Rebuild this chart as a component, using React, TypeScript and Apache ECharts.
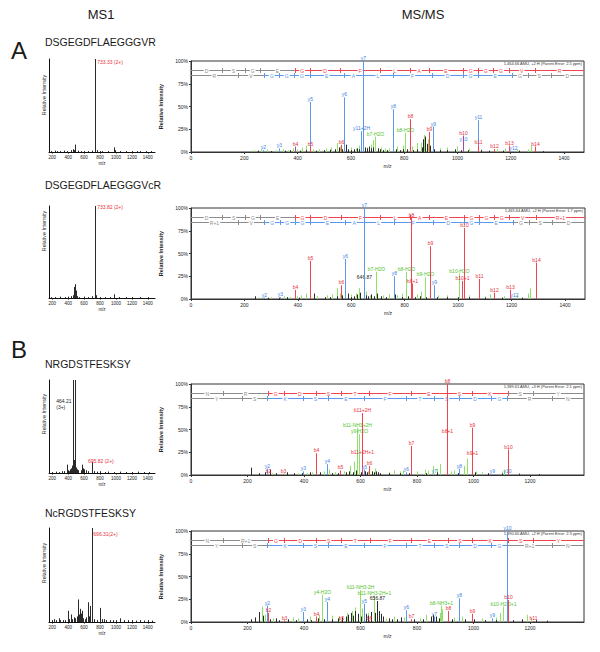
import React, { useEffect, useRef } from "react";
import * as echarts from "echarts";

const FONT = "'Liberation Sans', Arial, Helvetica, sans-serif";
const LINE_COL: Record<string, string> = { b: "#f0454e", y: "#5b98ec", g: "#92e06c", k: "#2a2a2a", p: "#a24a9c", s: "#9a9a9a" };
const TEXT_COL: Record<string, string> = { b: "#e8303a", y: "#3f7fe2", g: "#52c22a", k: "#222222", p: "#d8343e", s: "#777" };
const GRAY = "#8c8c8c";

// ---------------- texts ----------------
const peptides = ["DSGEGDFLAEGGGVR", "DSGEGDFLAEGGGVcR", "NRGDSTFESKSY", "NcRGDSTFESKSY"];
const annotations = [
  "1,464.66 AMU, +2 H (Parent Error: 2.5 ppm)",
  "1,465.64 AMU, +2 H (Parent Error: 1.7 ppm)",
  "1,389.61 AMU, +3 H (Parent Error: 2.1 ppm)",
  "1,390.60 AMU, +2 H (Parent Error: 2.3 ppm)",
];

// ---------------- MS1 ----------------
const ms1Ticks = [200, 400, 600, 800, 1000, 1200, 1400];
const ms1PeaksA1: [number, number][] = [
  [180, 1], [230, 1.5], [260, 1], [300, 1], [350, 1.5], [390, 1], [430, 2], [455, 3], [470, 2], [484, 8],
  [520, 1.5], [560, 1], [600, 1], [650, 1], [700, 1.5], [733.33, 100], [737, 4], [760, 2], [800, 1], [830, 1],
  [900, 1], [977, 5], [985, 2], [1050, 1], [1120, 1], [1200, 1], [1260, 1], [1300, 1], [1380, 1], [1440, 1],
];
const ms1PeaksA2: [number, number][] = [
  [180, 1], [240, 1], [300, 1.5], [360, 1], [400, 1.5], [440, 2], [458, 3], [470, 5], [478, 12], [486, 15],
  [494, 8], [510, 2], [540, 1], [600, 1.5], [650, 1], [700, 2], [733.82, 100], [737, 13], [741, 8], [746, 3],
  [800, 1], [860, 1], [930, 1], [977, 4], [1040, 1], [1120, 1], [1200, 1], [1300, 1], [1400, 1],
];
const ms1PeaksB1: [number, number][] = [
  [200, 1], [250, 1.5], [280, 1], [320, 2], [350, 2], [382, 9], [395, 3], [410, 2], [425, 4], [440, 5],
  [452, 8], [464.21, 100], [472, 14], [480, 10], [492, 100], [500, 6], [512, 4], [530, 3], [560, 3], [572, 9],
  [585, 5], [600, 4], [620, 3], [650, 2], [695.82, 12], [720, 2], [760, 1.5], [800, 2], [860, 1], [900, 1.5],
  [980, 1], [1050, 1.5], [1120, 1], [1200, 1], [1280, 1.5], [1350, 1], [1420, 1],
];
const ms1PeaksB2: [number, number][] = [
  [200, 2], [220, 3], [250, 2], [288, 4], [300, 2], [330, 2], [360, 2], [393, 12], [410, 3], [432, 8],
  [450, 3], [470, 5], [490, 4], [510, 6], [527, 24], [538, 8], [549, 14], [560, 9], [570, 12], [590, 4],
  [610, 3], [630, 5], [645, 21], [660, 6], [678, 17], [696.31, 100], [702, 4], [720, 3], [760, 2], [800, 15],
  [820, 3], [850, 3], [880, 2], [920, 2], [960, 2], [1000, 2], [1050, 4], [1100, 2], [1150, 2], [1200, 2],
  [1250, 1.5], [1300, 2], [1350, 1.5], [1400, 2], [1450, 1.5],
];
const ms1Labels: { panel: number; mz: number; int: number; text: string; color: string }[] = [
  { panel: 0, mz: 733.33, int: 100, text: "733.33 (2+)", color: "#e8303a" },
  { panel: 1, mz: 733.82, int: 100, text: "733.82 (2+)", color: "#e8303a" },
  { panel: 2, mz: 464.21, int: 80, text: "464.21\n(3+)", color: "#222" },
  { panel: 2, mz: 695.82, int: 12, text: "695.82 (2+)", color: "#e8303a" },
  { panel: 3, mz: 696.31, int: 100, text: "696.31(2+)", color: "#e8303a" },
];
const ms1LabelOffsets = [[2.5, 0], [2.5, -1.7], [-17, -1], [-3.7, -4], [1.6, 3]];

// ---------------- MS/MS ----------------
const msmsMax = [1475, 1475, 1391, 1391];
const msmsTicksA = [0, 200, 400, 600, 800, 1000, 1200, 1400];
const msmsTicksB = [0, 200, 400, 600, 800, 1000, 1200];
const pctTicks = [0, 25, 50, 75, 100];

type Ion = [number, number, string, string];
const ions1: Ion[] = [
  [272, 2, "y2", "y"], [331, 4, "y3", "y"], [389, 6, "b4", "p"], [446, 55, "y5", "y"], [447, 6, "b5", "b"],
  [563, 8, "b6", "b"], [575, 60, "y6", "y"], [638, 23, "y11+2H", "y"], [646, 100, "y7", "y"],
  [691, 17, "b7-H2O", "g"], [759, 47, "y8", "y"], [805, 21, "b8-H2O", "g"], [822, 36, "b8", "b"],
  [894, 22, "b9", "b"], [907, 28, "y9", "y"], [1021, 11, "y10", "y"], [1021, 18, "b10", "p"],
  [1079, 35, "y11", "y"], [1079, 8, "b11", "b"], [1136, 3, "b12", "b"], [1193, 7, "b13", "b"],
  [1207, 1, "y12", "y"], [1292, 6, "b14", "b"],
];
const ions2: Ion[] = [
  [275, 1.5, "y2", "y"], [332, 2, "y3", "y"], [389, 10, "b4", "b"], [447, 42, "b5", "b"], [562, 15, "b6", "b"],
  [576, 44, "y6", "y"], [647, 21, "646.87", "k"], [647, 100, "y7", "y"], [692, 30, "b7-H2O", "g"],
  [760, 25, "y8", "y"], [806, 30, "b8-H2O", "g"], [822, 89, "b8", "b"], [826, 17, "b8+1", "b"],
  [876, 24, "b9-H2O", "g"], [893, 58, "b9", "b"], [908, 15, "y9", "y"], [1005, 28, "b10-H2O", "g"],
  [1016, 20, "b10+1", "b"], [1021, 78, "b10", "b"], [1079, 22, "b11", "b"], [1136, 7, "b12", "b"],
  [1193, 10, "b13", "b"], [1208, 1, "y12", "y"], [1292, 40, "b14", "b"],
];
const ions3: Ion[] = [
  [268, 7, "y2", "y"], [271, 1, "b2", "b"], [327, 1, "b3", "b"], [396, 4, "y3", "y"], [442, 24, "b4", "b"],
  [483, 12, "y4", "y"], [529, 5, "b5", "b"], [588, 52, "b11-NH3+2H", "g"], [595, 45, "y9-H2O", "g"],
  [605, 68, "b11+2H", "b"], [606, 22, "b11+2H+1", "b"], [612, 6, "y5", "y"], [630, 10, "b6", "b"],
  [761, 3, "y6", "y"], [778, 32, "b7", "b"], [860, 1, "y7", "y"], [907, 100, "b8", "b"], [907, 45, "b8+1", "b"],
  [949, 7, "y8", "y"], [995, 52, "b9", "b"], [995, 21, "b9+1", "b"], [1064, 1, "y9", "y"],
  [1120, 1, "y10", "y"], [1122, 28, "b10", "b"],
];
const ions4: Ion[] = [
  [269, 18, "y2", "y"], [272, 10, "b2", "b"], [329, 1.5, "b3", "b"], [396, 11, "y3", "y"], [444, 6, "b4", "b"],
  [464, 30, "y4-H2O", "g"], [483, 22, "y4", "y"], [531, 1.5, "b5", "b"], [597, 35, "b11-NH3-2H", "g"],
  [612, 20, "y5", "y"], [631, 1.5, "b6", "b"], [648, 29, "b11-NH3-2H+1", "g"], [657, 23, "656.87", "k"],
  [760, 13, "y6", "y"], [779, 3, "b7", "b"], [861, 6, "y7", "y"], [885, 18, "b8-NH3+1", "g"],
  [908, 12, "b8", "b"], [949, 26, "y8", "y"], [995, 9, "b9", "b"], [1064, 4, "y9", "y"],
  [1105, 17, "b10-H2O+1", "g"], [1120, 100, "y10", "y"], [1123, 24, "b10", "b"], [1210, 1, "b11", "b"],
];

const noiseK1: [number, number][] = [
  [250, 1.5], [300, 1], [352, 1.5], [372, 2], [410, 1.5], [430, 2], [470, 1.5], [500, 2], [520, 2.5], [540, 3],
  [556, 5], [566, 3], [580, 8], [590, 3], [600, 2], [612, 3], [622, 4], [632, 3], [652, 5], [660, 4], [668, 6],
  [676, 4], [684, 5], [692, 6], [700, 4], [710, 3], [722, 2], [735, 2], [770, 3], [785, 2], [795, 3], [812, 3],
  [835, 2], [850, 3], [866, 5], [872, 14], [878, 17], [884, 9], [898, 7], [912, 3], [935, 2], [960, 2], [990, 3],
  [1012, 2], [1040, 2], [1090, 2], [1120, 1.5], [1170, 1.5], [1230, 1.5], [1320, 1],
];
const noiseG1: [number, number][] = [
  [238, 2], [262, 2], [285, 3], [318, 2], [344, 3], [365, 2], [381, 4], [398, 3], [418, 5], [433, 7], [458, 3],
  [482, 3], [508, 4], [525, 5], [547, 10], [561, 6], [600, 5], [618, 4], [630, 7], [660, 5], [675, 8], [682, 13],
  [712, 5], [728, 4], [745, 4], [775, 6], [796, 7], [830, 6], [848, 10], [862, 10], [875, 19], [888, 14],
  [910, 5], [935, 4], [960, 5], [1000, 6], [1045, 4], [1090, 3], [1148, 3], [1178, 4], [1222, 3], [1265, 3], [1275, 7],
];
const noiseK2: [number, number][] = [
  [240, 3], [290, 1.5], [330, 1.5], [360, 2], [405, 1.5], [462, 6], [500, 2], [520, 2], [548, 3], [566, 4],
  [588, 6], [600, 2], [612, 3], [622, 5], [632, 7], [656, 4], [664, 3], [672, 5], [684, 3], [698, 6], [710, 3],
  [730, 2], [764, 5], [790, 2], [812, 3], [840, 2], [858, 3], [880, 2], [920, 2], [960, 2], [1000, 2], [1040, 2],
  [1100, 1.5], [1165, 1.5], [1240, 1.5],
];
const noiseG2: [number, number][] = [
  [256, 2], [300, 2], [350, 3], [372, 2], [398, 3], [412, 4], [430, 6], [470, 3], [508, 4], [528, 5], [545, 12],
  [556, 6], [600, 5], [618, 6], [630, 12], [655, 8], [670, 4], [720, 4], [740, 5], [772, 4], [790, 6], [845, 5],
  [860, 8], [925, 4], [960, 4], [1040, 4], [1100, 3], [1120, 5], [1170, 3], [1220, 4], [1260, 6], [1270, 12],
];
const noiseK3: [number, number][] = [
  [212, 8], [240, 2], [262, 3], [278, 6], [300, 2], [340, 3], [365, 2], [392, 2], [420, 3], [455, 3], [500, 2],
  [520, 2], [548, 3], [560, 4], [572, 3], [584, 5], [594, 4], [600, 3], [616, 4], [622, 3], [640, 4], [648, 3],
  [656, 4], [662, 3], [668, 2], [700, 2], [740, 2], [770, 2], [830, 2], [870, 3], [906, 2], [945, 2], [1005, 3],
  [1050, 2], [1100, 1.5], [1160, 1.5], [1230, 1],
];
const noiseG3: [number, number][] = [
  [286, 2], [330, 2], [380, 2], [410, 2], [430, 3], [470, 4], [488, 6], [510, 3], [540, 4], [562, 10], [576, 15],
  [612, 5], [626, 4], [652, 7], [700, 3], [720, 5], [738, 4], [752, 5], [800, 4], [828, 6], [840, 5], [858, 10],
  [870, 7], [882, 12], [920, 4], [930, 5], [968, 10], [978, 18], [1010, 4], [1030, 3], [1100, 4], [1108, 6],
];
const noiseK4: [number, number][] = [
  [212, 3], [228, 5], [240, 11], [255, 7], [280, 3], [300, 4], [312, 2], [345, 3], [372, 2], [410, 3], [425, 2],
  [450, 4], [470, 3], [500, 3], [520, 4], [536, 5], [548, 6], [556, 8], [566, 10], [574, 7], [582, 12], [590, 9],
  [602, 6], [620, 9], [628, 7], [636, 11], [646, 15], [652, 10], [664, 12], [672, 9], [680, 6], [700, 4],
  [712, 3], [730, 3], [745, 5], [790, 3], [820, 3], [848, 6], [856, 8], [866, 6], [878, 4], [925, 3], [970, 3],
  [1000, 3], [1040, 2], [1080, 2], [1140, 2], [1172, 3], [1220, 2], [1260, 1.5],
];
const noiseG4: [number, number][] = [
  [250, 17], [262, 8], [290, 4], [330, 3], [360, 5], [380, 4], [420, 6], [452, 8], [500, 7], [525, 6], [552, 10],
  [570, 12], [582, 16], [607, 15], [625, 10], [690, 4], [720, 6], [755, 5], [810, 4], [830, 8], [880, 10],
  [890, 14], [930, 5], [960, 6], [1030, 4], [1080, 5], [1095, 10], [1190, 8], [1205, 4],
];

// sequence ladders (fragment boundaries in m/z)
const seqTop1 = ["D", "S", "G", "E", "G", "D", "F", "L", "A", "E", "G", "G", "G", "V", "R"];
const bLadder1 = [116, 203, 260, 389, 446, 561, 708, 821, 892, 1021, 1078, 1135, 1192, 1291];
const seqBot1 = ["R", "V", "G", "G", "G", "E", "A", "L", "F", "D", "G", "E", "G", "S", "D"];
const yLadder1 = [175, 274, 331, 388, 445, 574, 645, 758, 905, 1020, 1077, 1206, 1263, 1350];
const seqTop2 = ["D", "S", "G", "E", "G", "D", "F", "L", "A", "E", "G", "G", "G", "V", "R+1"];
const bLadder2 = [116, 203, 260, 389, 446, 561, 708, 821, 892, 1021, 1078, 1135, 1192, 1291];
const seqBot2 = ["R+1", "V", "G", "G", "G", "E", "A", "L", "F", "D", "G", "E", "G", "S", "D"];
const yLadder2 = [176, 275, 332, 389, 446, 575, 646, 759, 906, 1021, 1078, 1207, 1264, 1351];
const seqTop3 = ["N", "R", "G", "D", "S", "T", "F", "E", "S", "K", "S", "Y"];
const bLadder3 = [115, 271, 328, 443, 530, 631, 778, 907, 994, 1122, 1209];
const seqBot3 = ["Y", "S", "K", "S", "E", "F", "T", "S", "D", "G", "R", "N"];
const yLadder3 = [182, 269, 397, 484, 613, 760, 861, 948, 1063, 1120, 1276];
const seqTop4 = ["N", "R+1", "G", "D", "S", "T", "F", "E", "S", "K", "S", "Y"];
const bLadder4 = [115, 272, 329, 444, 531, 632, 779, 908, 995, 1123, 1210];
const seqBot4 = ["Y", "S", "K", "S", "E", "F", "T", "S", "D", "G", "R+1", "N"];
const yLadder4 = [182, 269, 397, 484, 613, 760, 861, 948, 1063, 1120, 1277];
const topCover = [[4, 14], [4, 14], [2, 9], [2, 11]];
const botCover = [[2, 11], [2, 11], [2, 9], [2, 9]];

// ---------------- layout ----------------
const ms1Grids = [
  { left: 49, top: 59, width: 106, height: 93 },
  { left: 49, top: 206, width: 106, height: 92 },
  { left: 49, top: 380, width: 106, height: 93 },
  { left: 49, top: 528, width: 106, height: 94 },
];
const msmsGrids = [
  { left: 191, top: 61, width: 393, height: 91 },
  { left: 191, top: 208, width: 394, height: 91 },
  { left: 191, top: 384, width: 393, height: 91 },
  { left: 191, top: 531, width: 393, height: 91 },
];
const peptideY = [42, 185, 364, 513];
const ms1NameY = [95, 231, 414, 563];

function peakSeries(axis: number, list: any[], defType: string, z: number, withLabels: boolean) {
  return {
    type: "custom",
    xAxisIndex: axis,
    yAxisIndex: axis,
    z,
    silent: true,
    encode: { x: 0, y: 1 },
    data: list.map((p) => [p[0], p[1]]),
    renderItem: (params: any, api: any) => {
      const p = list[params.dataIndex];
      const t = p[3] || defType;
      const top = api.coord([p[0], p[1]]);
      const base = api.coord([p[0], 0]);
      const x = Math.round(top[0]) + 0.5;
      const children: any[] = [
        { type: "line", shape: { x1: x, y1: base[1], x2: x, y2: top[1] }, style: { stroke: LINE_COL[t], lineWidth: 1 } },
      ];
      if (withLabels && p[2]) {
        children.push({
          type: "text",
          style: {
            text: p[2], x, y: top[1] - 0.5, fill: TEXT_COL[t], fontSize: 5, fontFamily: FONT,
            align: "center", verticalAlign: "bottom",
          },
        });
      }
      return { type: "group", children };
    },
  };
}

function ladderSeries(axis: number, letters: string[], ladder: number[], cover: number[], level: number, xMax: number, color: string) {
  const segs = letters.map((L, i) => {
    const start = i === 0 ? 0 : ladder[i - 1];
    const end = i === letters.length - 1 ? xMax : ladder[i];
    const on = i >= cover[0] && i <= cover[1];
    const nextOn = i + 1 >= cover[0] && i + 1 <= cover[1];
    return { start, end, L, col: on ? color : GRAY, tick: i < letters.length - 1, tickCol: on || nextOn ? color : GRAY };
  });
  return {
    type: "custom",
    xAxisIndex: axis,
    yAxisIndex: axis,
    z: 1,
    silent: true,
    encode: { x: [0, 1], y: 2 },
    data: segs.map((s) => [s.start, s.end, level]),
    renderItem: (params: any, api: any) => {
      const s = segs[params.dataIndex];
      const a = api.coord([s.start, level]);
      const b = api.coord([s.end, level]);
      const y = Math.round(a[1]) + 0.5;
      const children: any[] = [
        { type: "line", shape: { x1: a[0], y1: y, x2: b[0], y2: y }, style: { stroke: s.col, lineWidth: 1 } },
      ];
      if (s.tick) {
        const tx = Math.round(b[0]) + 0.5;
        children.push({ type: "line", shape: { x1: tx, y1: y - 2.5, x2: tx, y2: y + 2.5 }, style: { stroke: s.tickCol, lineWidth: 1 } });
      }
      children.push({
        type: "text",
        style: {
          text: s.L, x: (a[0] + b[0]) / 2, y, fill: s.col, fontSize: 5, fontFamily: FONT,
          align: "center", verticalAlign: "middle", backgroundColor: "#ffffff", padding: [0, 1],
        },
      });
      return { type: "group", children };
    },
  };
}

function ms1LabelSeries() {
  return ms1Labels.map((lab, i) => ({
    type: "custom",
    xAxisIndex: lab.panel,
    yAxisIndex: lab.panel,
    z: 4,
    silent: true,
    encode: { x: 0, y: 1 },
    data: [[lab.mz, lab.int]],
    renderItem: (params: any, api: any) => {
      const pt = api.coord([lab.mz, lab.int]);
      const off = ms1LabelOffsets[i];
      return {
        type: "text",
        style: {
          text: lab.text, x: pt[0] + off[0], y: pt[1] + off[1], fill: lab.color, fontSize: 5,
          fontFamily: FONT, align: "left", verticalAlign: "top", lineHeight: 6,
        },
      };
    },
  }));
}

const plain = (v: number) => String(v);

export default function App() {
  const ref = useRef<HTMLDivElement>(null);
  useEffect(() => {
    if (!ref.current) return;
    const chart = echarts.init(ref.current, null, { renderer: "svg" });

    const grids = [
      ...ms1Grids.map((g) => ({ ...g, show: false, containLabel: false, outerBoundsMode: "none" })),
      ...msmsGrids.map((g) => ({ ...g, show: true, borderColor: "#333", borderWidth: 1, backgroundColor: "transparent", containLabel: false, outerBoundsMode: "none" })),
    ];
    const axisFont = { fontSize: 4.5, color: "#222", fontFamily: FONT };

    const xAxes: any[] = [];
    const yAxes: any[] = [];
    for (let i = 0; i < 4; i++) {
      xAxes.push({
        type: "value", gridIndex: i, min: 160, max: 1490,
        axisLine: { show: true, lineStyle: { color: "#111", width: 1 } },
        axisTick: { show: true, length: 1.5, customValues: ms1Ticks, lineStyle: { color: "#111" } },
        axisLabel: { ...axisFont, margin: 2.5, customValues: ms1Ticks, formatter: plain },
        splitLine: { show: false },
        name: "m/z", nameLocation: "middle", nameGap: 9, nameTextStyle: { ...axisFont },
      });
      yAxes.push({
        type: "value", gridIndex: i, min: 0, max: 100,
        axisLine: { show: true, lineStyle: { color: "#111", width: 1 } },
        axisTick: { show: false }, axisLabel: { show: false }, splitLine: { show: false },
      });
    }
    for (let i = 0; i < 4; i++) {
      const ticks = msmsMax[i] > 1400 ? msmsTicksA : msmsTicksB;
      xAxes.push({
        type: "value", gridIndex: 4 + i, min: 0, max: msmsMax[i],
        axisLine: { show: true, lineStyle: { color: "#333", width: 1 } },
        axisTick: { show: true, length: 2, customValues: ticks, lineStyle: { color: "#333" } },
        axisLabel: { fontSize: 5, color: "#222", fontFamily: FONT, margin: 3, customValues: ticks, formatter: plain },
        splitLine: { show: false },
        name: "m/z", nameLocation: "middle", nameGap: 11, nameTextStyle: { fontSize: 5, color: "#222", fontFamily: FONT },
      });
      yAxes.push({
        type: "value", gridIndex: 4 + i, min: 0, max: 100,
        axisLine: { show: true, lineStyle: { color: "#333", width: 1 } },
        axisTick: { show: true, length: 2, customValues: pctTicks, lineStyle: { color: "#333" } },
        axisLabel: { fontSize: 5, color: "#222", fontFamily: FONT, margin: 3, customValues: pctTicks, formatter: "{value}%" },
        splitLine: { show: false },
        name: "Relative Intensity", nameLocation: "middle", nameGap: 16,
        nameTextStyle: { fontSize: 5.5, color: "#222", fontFamily: FONT, fontWeight: "bold" },
      });
    }

    const ms1Sets = [ms1PeaksA1, ms1PeaksA2, ms1PeaksB1, ms1PeaksB2];
    const ionSets = [ions1, ions2, ions3, ions4];
    const noiseKSets = [noiseK1, noiseK2, noiseK3, noiseK4];
    const noiseGSets = [noiseG1, noiseG2, noiseG3, noiseG4];
    const tops = [seqTop1, seqTop2, seqTop3, seqTop4];
    const bLads = [bLadder1, bLadder2, bLadder3, bLadder4];
    const bots = [seqBot1, seqBot2, seqBot3, seqBot4];
    const yLads = [yLadder1, yLadder2, yLadder3, yLadder4];

    const series: any[] = [];
    for (let i = 0; i < 4; i++) {
      series.push(peakSeries(i, ms1Sets[i], "k", 2, false));
    }
    series.push(...ms1LabelSeries());
    for (let i = 0; i < 4; i++) {
      const ax = 4 + i;
      series.push(ladderSeries(ax, tops[i], bLads[i], topCover[i], 90, msmsMax[i], LINE_COL.b));
      series.push(ladderSeries(ax, bots[i], yLads[i], botCover[i], 85, msmsMax[i], LINE_COL.y));
      series.push(peakSeries(ax, noiseGSets[i], "g", 2, false));
      series.push(peakSeries(ax, noiseKSets[i], "k", 2, false));
      series.push(peakSeries(ax, ionSets[i], "k", 3, true));
    }

    const txt = (x: number, y: number, text: string, fontSize: number, extra: any = {}) => ({
      type: "text", x, y, silent: true,
      style: { text, fontSize, fontFamily: FONT, fill: "#1a1a1a", textAlign: "left", textVerticalAlign: "middle", align: "left", verticalAlign: "middle", ...extra },
    });
    const graphics: any[] = [
      txt(101, 14, "MS1", 13, { textAlign: "center", align: "center" }),
      txt(423, 14, "MS/MS", 13, { textAlign: "center", align: "center" }),
      txt(19, 50, "A", 24, { textAlign: "center", align: "center" }),
      txt(19, 349, "B", 24, { textAlign: "center", align: "center" }),
    ];
    peptides.forEach((p, i) => graphics.push(txt(45, peptideY[i], p, 10.5)));
    ms1NameY.forEach((y) =>
      graphics.push({ ...txt(44, y, "Relative Intensity", 5.3, { textAlign: "center", align: "center", fill: "#222" }), rotation: Math.PI / 2 })
    );
    annotations.forEach((a, i) => {
      const g = msmsGrids[i];
      graphics.push(txt(g.left + g.width - 2, g.top + 2.5, a, 4, { textAlign: "right", align: "right", fill: "#333" }));
    });

    chart.setOption({
      animation: false,
      backgroundColor: "#ffffff",
      textStyle: { fontFamily: FONT },
      grid: grids,
      xAxis: xAxes,
      yAxis: yAxes,
      series,
      graphic: { elements: graphics },
    });
    return () => chart.dispose();
  }, []);
  return <div ref={ref} style={{ position: "absolute", left: 0, top: 0, width: 600, height: 652 }} />;
}
